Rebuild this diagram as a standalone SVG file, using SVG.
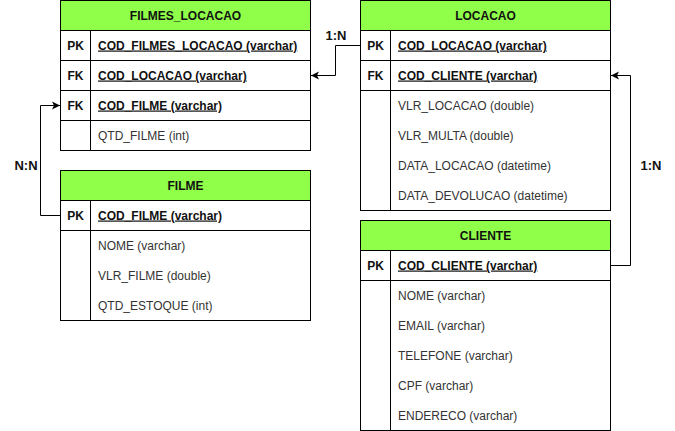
<svg xmlns="http://www.w3.org/2000/svg" width="675" height="431" viewBox="0 0 675 431">
<defs>
<style>
text{font-family:"Liberation Sans",Arial,sans-serif;font-size:12px;fill:#333}
.h{font-weight:bold;text-anchor:middle;fill:#111}
.k{font-weight:bold;text-anchor:middle;fill:#111}
.pk{font-weight:bold;text-decoration:underline;fill:#111}
.lbl{font-weight:bold;font-size:13px;fill:#111;text-anchor:middle}
.box{fill:#fff;stroke:#000;stroke-width:1}
.hd{fill:#8fff4a;stroke:#000;stroke-width:1}
.ln{stroke:#000;stroke-width:1;fill:none}
</style>
<marker id="arr" markerWidth="10" markerHeight="10" refX="8" refY="5" orient="auto" markerUnits="userSpaceOnUse">
<path d="M0,1 L8,5 L0,9 L2,5 Z" fill="#000"/>
</marker>
</defs>
<rect width="675" height="431" fill="#fff"/>

<g id="filmes_locacao">
<rect class="box" x="60.5" y="0.5" width="250" height="150"/>
<rect class="hd" x="60.5" y="0.5" width="250" height="30"/>
<path class="ln" d="M60.5,60.5H310.5M60.5,90.5H310.5M60.5,120.5H310.5M90.5,30.5V150.5"/>
<text class="h" x="185.5" y="19.5">FILMES_LOCACAO</text>
<text class="k" x="75.5" y="49.5">PK</text>
<text class="pk" x="98" y="49.5">COD_FILMES_LOCACAO (varchar)</text>
<text class="k" x="75.5" y="79.5">FK</text>
<text class="pk" x="98" y="79.5">COD_LOCACAO (varchar)</text>
<text class="k" x="75.5" y="109.5">FK</text>
<text class="pk" x="98" y="109.5">COD_FILME (varchar)</text>
<text x="98" y="139.5">QTD_FILME (int)</text>
</g>

<g id="locacao">
<rect class="box" x="360.5" y="0.5" width="250" height="210"/>
<rect class="hd" x="360.5" y="0.5" width="250" height="30"/>
<path class="ln" d="M360.5,60.5H610.5M360.5,90.5H610.5M390.5,30.5V210.5"/>
<text class="h" x="485.5" y="19.5">LOCACAO</text>
<text class="k" x="375.5" y="49.5">PK</text>
<text class="pk" x="398" y="49.5">COD_LOCACAO (varchar)</text>
<text class="k" x="375.5" y="79.5">FK</text>
<text class="pk" x="398" y="79.5">COD_CLIENTE (varchar)</text>
<text x="398" y="109.5">VLR_LOCACAO (double)</text>
<text x="398" y="139.5">VLR_MULTA (double)</text>
<text x="398" y="169.5">DATA_LOCACAO (datetime)</text>
<text x="398" y="199.5">DATA_DEVOLUCAO (datetime)</text>
</g>

<g id="filme">
<rect class="box" x="60.5" y="170.5" width="250" height="150"/>
<rect class="hd" x="60.5" y="170.5" width="250" height="30"/>
<path class="ln" d="M60.5,230.5H310.5M90.5,200.5V320.5"/>
<text class="h" x="185.5" y="189.5">FILME</text>
<text class="k" x="75.5" y="219.5">PK</text>
<text class="pk" x="98" y="219.5">COD_FILME (varchar)</text>
<text x="98" y="249.5">NOME (varchar)</text>
<text x="98" y="279.5">VLR_FILME (double)</text>
<text x="98" y="309.5">QTD_ESTOQUE (int)</text>
</g>

<g id="cliente">
<rect class="box" x="360.5" y="220.5" width="250" height="210"/>
<rect class="hd" x="360.5" y="220.5" width="250" height="30"/>
<path class="ln" d="M360.5,280.5H610.5M390.5,250.5V430.5"/>
<text class="h" x="485.5" y="239.5">CLIENTE</text>
<text class="k" x="375.5" y="269.5">PK</text>
<text class="pk" x="398" y="269.5">COD_CLIENTE (varchar)</text>
<text x="398" y="299.5">NOME (varchar)</text>
<text x="398" y="329.5">EMAIL (varchar)</text>
<text x="398" y="359.5">TELEFONE (varchar)</text>
<text x="398" y="389.5">CPF (varchar)</text>
<text x="398" y="419.5">ENDERECO (varchar)</text>
</g>

<g id="connectors">
<path class="ln" d="M360.5,45.5H335.5V75.5H311" marker-end="url(#arr)"/>
<path class="ln" d="M60.5,215.5H40.5V105.5H60" marker-end="url(#arr)"/>
<path class="ln" d="M610.5,265.5H630.5V75.5H611" marker-end="url(#arr)"/>
<text class="lbl" x="336" y="40">1:N</text>
<text class="lbl" x="26" y="170">N:N</text>
<text class="lbl" x="651" y="170">1:N</text>
</g>
</svg>
